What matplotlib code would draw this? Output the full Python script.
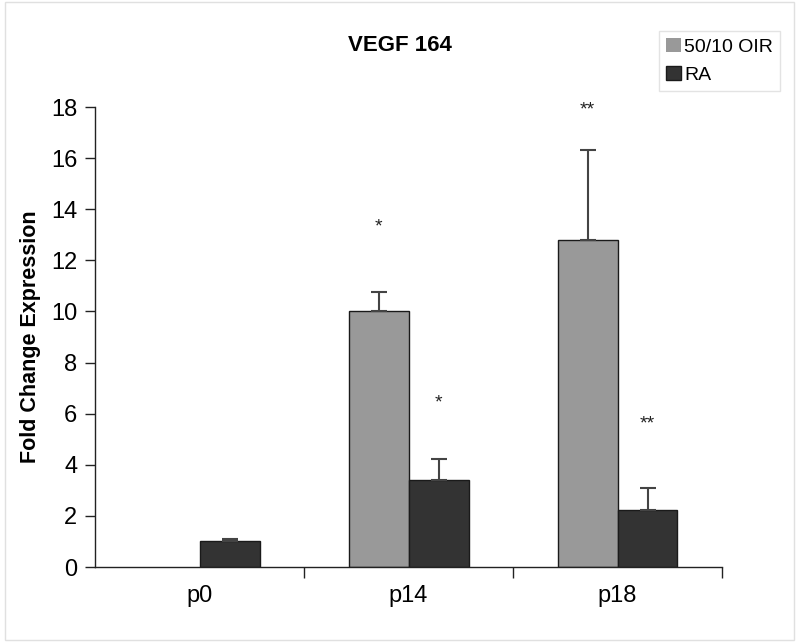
import numpy as np
import matplotlib.pyplot as plt
from matplotlib.patches import Rectangle

plt.rcParams['font.family'] = ['Liberation Sans', 'DejaVu Sans']

categories = ['p0', 'p14', 'p18']
oir_vals = [0.0, 10.0, 12.8]
oir_err = [0.0, 0.78, 3.5]
ra_vals = [1.02, 3.42, 2.22]
ra_err = [0.08, 0.8, 0.88]
oir_stars = ['', '*', '**']
ra_stars = ['', '*', '**']
oir_star_y = [0, 13.3, 17.9]
ra_star_y = [0, 6.4, 5.6]

fig = plt.figure(figsize=(8, 6.42), dpi=100)
ax = fig.add_axes([0.119, 0.1168, 0.7835, 0.7165])

x = np.arange(len(categories))
w = 0.287
ax.bar(x - w/2, oir_vals, w, color='#999999', edgecolor='#1a1a1a',
       linewidth=[1 if v > 0 else 0 for v in oir_vals], label='50/10 OIR', zorder=2)
ax.bar(x + w/2, ra_vals, w, color='#333333', edgecolor='#1a1a1a',
       linewidth=[1 if v > 0 else 0 for v in ra_vals], label='RA', zorder=2)

for i in range(len(categories)):
    if oir_vals[i] > 0:
        ax.errorbar(x[i] - w/2, oir_vals[i], yerr=[[0], [oir_err[i]]], fmt='none',
                    ecolor='#444444', elinewidth=1.5, capsize=6, capthick=1.5, zorder=3)
    ax.errorbar(x[i] + w/2, ra_vals[i], yerr=[[0], [ra_err[i]]], fmt='none',
                ecolor='#444444', elinewidth=1.5, capsize=6, capthick=1.5, zorder=3)
    if oir_stars[i]:
        ax.text(x[i] - w/2, oir_star_y[i], oir_stars[i], ha='center', va='center',
                fontsize=14, color='#222222', clip_on=False)
    if ra_stars[i]:
        ax.text(x[i] + w/2, ra_star_y[i], ra_stars[i], ha='center', va='center',
                fontsize=14, color='#222222', clip_on=False)

ax.set_xlim(-0.5, 2.5)
ax.set_ylim(0, 18)
ax.set_yticks(np.arange(0, 19, 2))
ax.set_xticks(x)
ax.set_xticklabels(categories)
ax.set_xticks([0.5, 1.5, 2.5], minor=True)
ax.tick_params(axis='x', which='major', length=0, pad=13, labelsize=17)
ax.tick_params(axis='x', which='minor', length=8, width=1, direction='out', color='#222222')
ax.tick_params(axis='y', length=7, width=1, direction='out', labelsize=17, pad=6, color='#222222')
for s in ['top', 'right']:
    ax.spines[s].set_visible(False)
for s in ['left', 'bottom']:
    ax.spines[s].set_color('#222222')
    ax.spines[s].set_linewidth(1)

ax.set_ylabel('Fold Change Expression', fontsize=15.5, fontweight='bold', labelpad=7)
fig.text(0.5, 0.929, 'VEGF 164', ha='center', va='center', fontsize=16, fontweight='bold')

leg = ax.legend(loc='upper left', bbox_to_anchor=(0.824, 0.952),
                bbox_transform=fig.transFigure, fontsize=14,
                frameon=True, fancybox=False, handlelength=0.75, handleheight=0.75,
                handletextpad=0.2, borderpad=0.35, labelspacing=0.55, borderaxespad=0)
leg.get_frame().set_edgecolor('#dddddd')
leg.get_frame().set_linewidth(1)

fig.patches.append(Rectangle((0.006, 0.003), 0.986, 0.994, transform=fig.transFigure,
                             fill=False, edgecolor='#e0e0e0', linewidth=1))

fig.savefig('out.png', dpi=100)
